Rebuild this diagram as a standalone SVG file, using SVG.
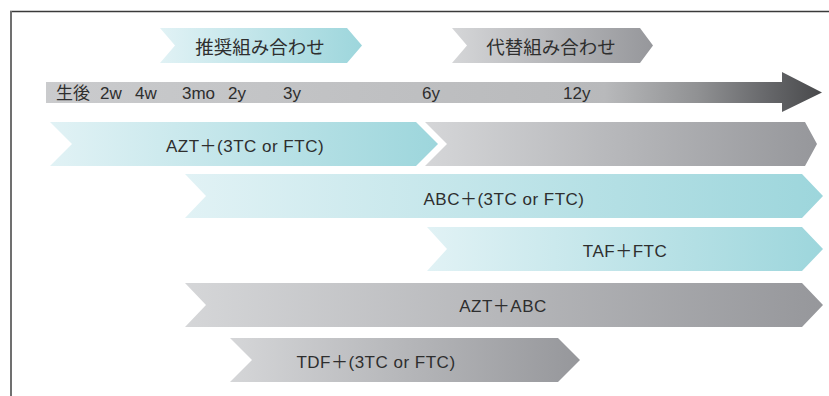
<svg xmlns="http://www.w3.org/2000/svg" width="829" height="396" viewBox="0 0 829 396">
  <defs>
    <linearGradient id="teal" x1="0" y1="0" x2="1" y2="0">
      <stop offset="0" stop-color="#e1f2f5"/>
      <stop offset="1" stop-color="#9dd6dc"/>
    </linearGradient>
    <linearGradient id="grey" x1="0" y1="0" x2="1" y2="0">
      <stop offset="0" stop-color="#d5d6d8"/>
      <stop offset="1" stop-color="#96979b"/>
    </linearGradient>
    <linearGradient id="time" x1="0" y1="0" x2="1" y2="0">
      <stop offset="0" stop-color="#cacbcd"/>
      <stop offset="0.72" stop-color="#b8b9bb"/>
      <stop offset="0.84" stop-color="#909193"/>
      <stop offset="0.93" stop-color="#66676a"/>
      <stop offset="1" stop-color="#48494b"/>
    </linearGradient>
    <style>
      .lbl { font-family: "Liberation Sans", "Noto Sans CJK JP", sans-serif; font-size: 17px; fill: #2e2e2e; letter-spacing: 0.5px; }
      .tl { font-family: "Liberation Sans", "Noto Sans CJK JP", sans-serif; font-size: 17px; fill: #2e2e2e; }
      .leg { font-family: "Noto Sans CJK JP", sans-serif; font-size: 18.5px; fill: #2e2e2e; text-anchor: middle; }
      .mid { text-anchor: middle; }
      .teal { fill: url(#teal); }
      .grey { fill: url(#grey); }
      .frame { stroke-linecap: butt; fill: none; }
    </style>
  </defs>
  <rect width="829" height="396" fill="#ffffff"/>
  <g id="frame">
    <line class="frame" x1="10" y1="11.5" x2="829" y2="11.5" stroke="#3a3a3a" stroke-width="1.5"/>
    <line class="frame" x1="11" y1="11" x2="11" y2="396" stroke="#707070" stroke-width="2"/>
  </g>
  <g id="legend-recommended">
    <path class="teal" d="M160,28 L347,28 L362,45.5 L347,63 L160,63 L175,45.5 Z"/>
    <text class="leg" x="260" y="54">推奨組み合わせ</text>
  </g>
  <g id="legend-alternative">
    <path class="grey" d="M452,28 L640,28 L653,45.5 L640,63 L452,63 L467,45.5 Z"/>
    <text class="leg" x="551" y="54">代替組み合わせ</text>
  </g>
  <g id="timeline">
    <path fill="url(#time)" d="M46,82 L782,82 L782,72 L822,92.5 L782,112 L782,103 L46,103 Z"/>
    <text class="tl" x="56" y="98.5">生後</text>
    <text class="tl" x="100" y="98.5">2w</text>
    <text class="tl" x="135" y="98.5">4w</text>
    <text class="tl" x="182" y="98.5">3mo</text>
    <text class="tl" x="228" y="98.5">2y</text>
    <text class="tl" x="283" y="98.5">3y</text>
    <text class="tl" x="422" y="98.5">6y</text>
    <text class="tl" x="563" y="98.5">12y</text>
  </g>
  <g id="azt-3tc-ftc-alt">
    <path class="grey" d="M425,122 L805,122 L817,144 L805,166 L425,166 L447,144 Z"/>
  </g>
  <g id="azt-3tc-ftc">
    <path class="teal" d="M50,122 L416,122 L438,144 L416,166 L50,166 L72,144 Z"/>
    <text class="lbl mid" x="245" y="151.5">AZT＋(3TC or FTC)</text>
  </g>
  <g id="abc-3tc-ftc">
    <path class="teal" d="M185,174 L802,174 L823,196 L802,218 L185,218 L206,196 Z"/>
    <text class="lbl mid" x="504" y="205">ABC＋(3TC or FTC)</text>
  </g>
  <g id="taf-ftc">
    <path class="teal" d="M427,227 L802,227 L823,249 L802,271 L427,271 L447,249 Z"/>
    <text class="lbl mid" x="625" y="257">TAF＋FTC</text>
  </g>
  <g id="azt-abc">
    <path class="grey" d="M185,283 L802,283 L823,305 L802,327 L185,327 L206,305 Z"/>
    <text class="lbl mid" x="503" y="312">AZT＋ABC</text>
  </g>
  <g id="tdf-3tc-ftc">
    <path class="grey" d="M230,338 L558,338 L580,360 L558,382 L230,382 L252,360 Z"/>
    <text class="lbl mid" x="376" y="368">TDF＋(3TC or FTC)</text>
  </g>
</svg>
